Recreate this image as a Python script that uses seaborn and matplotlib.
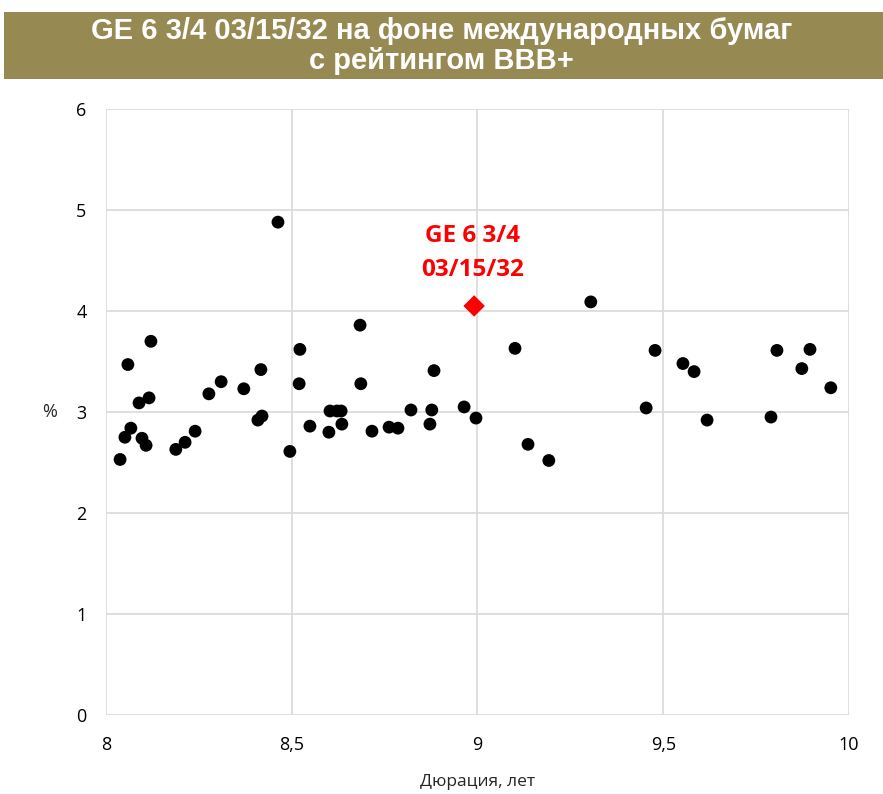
import numpy as np
import pandas as pd
import matplotlib
matplotlib.use("Agg")
import matplotlib.pyplot as plt
import seaborn as sns
from matplotlib.patches import Rectangle
from matplotlib.ticker import FuncFormatter

# Duration (years) and yield (%) of international BBB+ bonds
duration = [8.038, 8.051, 8.059, 8.067, 8.089, 8.097, 8.108, 8.116, 8.121, 8.188,
            8.213, 8.240, 8.277, 8.310, 8.371, 8.409, 8.420, 8.417, 8.463, 8.495,
            8.520, 8.522, 8.549, 8.600, 8.603, 8.622, 8.633, 8.635, 8.684, 8.686,
            8.716, 8.762, 8.786, 8.821, 8.872, 8.877, 8.883, 8.964, 8.996, 9.101,
            9.136, 9.192, 9.305, 9.454, 9.478, 9.553, 9.583, 9.618, 9.790, 9.806,
            9.873, 9.895, 9.951]
yields = [2.53, 2.75, 3.47, 2.84, 3.09, 2.74, 2.67, 3.14, 3.70, 2.63,
          2.70, 2.81, 3.18, 3.30, 3.23, 2.92, 2.96, 3.42, 4.88, 2.61,
          3.28, 3.62, 2.86, 2.80, 3.01, 3.01, 3.01, 2.88, 3.86, 3.28,
          2.81, 2.85, 2.84, 3.02, 2.88, 3.02, 3.41, 3.05, 2.94, 3.63,
          2.68, 2.52, 4.09, 3.04, 3.61, 3.48, 3.40, 2.92, 2.95, 3.61,
          3.43, 3.62, 3.24]

ge_label = "GE 6 3/4\n03/15/32"
ge_duration = [8.991]
ge_yield = [4.05]

title = "GE 6 3/4 03/15/32 на фоне международных бумаг\nс рейтингом BBB+"
x_ticks = [8, 8.5, 9, 9.5, 10]
y_ticks = [0, 1, 2, 3, 4, 5, 6]

sns.set_theme(style="white")
plt.rcParams['font.family'] = ['Open Sans', 'DejaVu Sans']

fig = plt.figure(figsize=(8.83, 7.94), dpi=100)
ax = fig.add_axes([0.120, 0.0995, 0.8415, 0.7632])

df = pd.DataFrame({'duration': duration, 'yield': yields})
sns.scatterplot(data=df, x='duration', y='yield', ax=ax, color='black',
                s=85, edgecolor='none', zorder=3)
sns.scatterplot(x=ge_duration, y=ge_yield, ax=ax, color='#ff0000', marker='D',
                s=120, edgecolor='none', zorder=4)
ax.text(ge_duration[0] - 0.005, ge_yield[0] + 0.24, ge_label, color='#ff0000',
        fontsize=17.5, fontweight='bold', ha='center', va='bottom',
        linespacing=1.55, zorder=5)

ax.set_xlim(8, 10)
ax.set_ylim(0, 6)
ax.set_xticks(x_ticks)
ax.set_yticks(y_ticks)
ax.xaxis.set_major_formatter(FuncFormatter(lambda v, p: f"{v:g}".replace('.', ',')))
ax.grid(True, color='#d9d9d9', linewidth=1.2)
ax.set_axisbelow(True)
for s in ax.spines.values():
    s.set_visible(False)
ax.tick_params(axis='both', labelsize=13, colors='black', length=0)
ax.tick_params(axis='x', pad=15)
ax.tick_params(axis='y', pad=14)
ax.set_xlabel("Дюрация, лет", fontsize=12.5, va='center')
ax.set_ylabel("%", fontsize=13, rotation=0, va='center', ha='center')
ax.xaxis.set_label_coords(0.5, (715 - 782) / 606)
ax.yaxis.set_label_coords((50 - 106) / 743, 0.5)

# title banner
fig.patches.append(Rectangle((4 / 883, 1 - 79 / 794), 1, 67 / 794,
                             transform=fig.transFigure, facecolor='#968952',
                             edgecolor='none', zorder=0))
fig.text(0.5, 1 - 46 / 794, title, ha='center', va='center', color='white',
         fontsize=21, fontweight='bold', linespacing=1.05,
         family=['Liberation Sans', 'DejaVu Sans'])

fig.savefig("out.png", dpi=100)
